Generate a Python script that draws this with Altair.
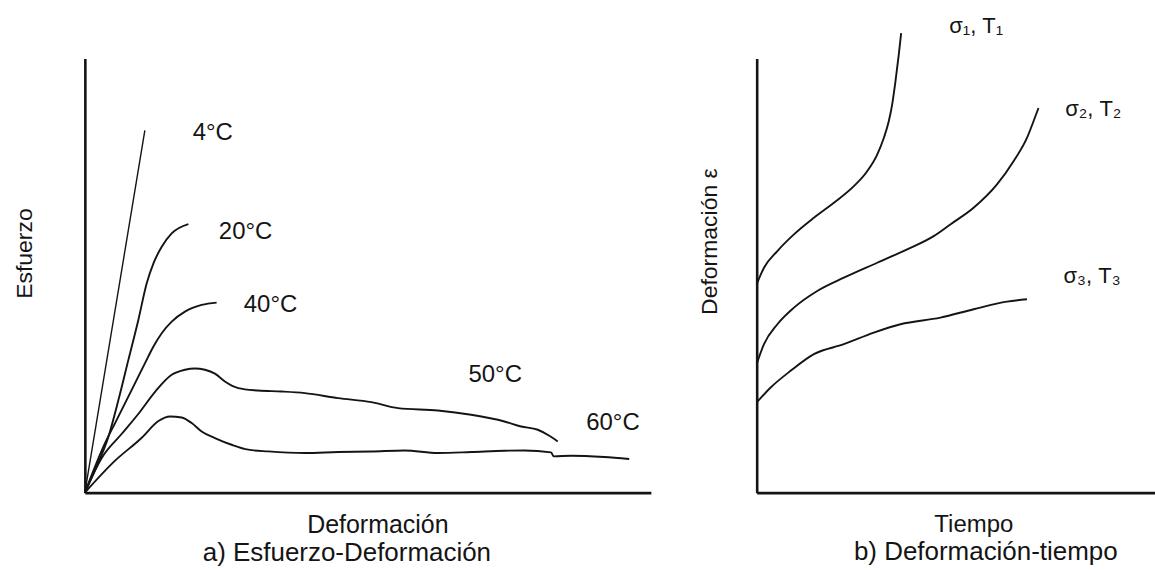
import altair as alt
import pandas as pd

FONT = "Liberation Sans"
INK = "#141414"

# ---------------- Left panel: Esfuerzo vs Deformación (arbitrary units 0-100)
c4_x = [0, 10.6]
c4_y = [0, 83.4]

c20_x = [0, 1.82, 4.18, 5.94, 7.69, 9.45, 10.93, 12.12, 13.58, 15.34, 18.29]
c20_y = [0, 5.29, 12.94, 21.38, 30.57, 39.77, 48.21, 52.80, 56.62, 59.70, 61.84]

c40_x = [0, 1.82, 3.58, 5.34, 7.11, 8.87, 10.63, 12.12, 13.58, 15.34, 17.69, 20.63, 23.28]
c40_y = [0, 6.05, 11.43, 16.02, 20.62, 25.22, 29.82, 33.66, 36.71, 39.38, 41.68, 43.22, 43.75]

c50_x = [0, 3.00, 6.53, 9.47, 12.40, 15.34, 17.69, 19.40, 21.22, 22.98, 24.74, 27.10, 30.62,
         34.74, 38.85, 44.74, 50.62, 55.33, 62.38, 68.25, 74.13, 77.07, 80.02, 82.06, 83.54]
c50_y = [0, 8.05, 13.56, 18.16, 23.22, 27.13, 28.30, 28.60, 28.30, 27.40, 25.59, 24.07, 23.52,
         23.29, 22.92, 21.77, 20.85, 19.47, 18.92, 17.93, 16.39, 15.24, 14.48, 13.10, 11.79]

c60_x = [0, 5.34, 10.05, 13.00, 15.04, 17.11, 18.87, 20.63, 22.98, 25.93, 28.87, 32.39,
         38.85, 44.74, 50.62, 56.49, 62.38, 68.25, 74.13, 77.66, 82.36, 82.84, 85.89, 91.75, 96.17]
c60_y = [0, 7.36, 12.64, 16.50, 17.54, 17.30, 16.02, 14.09, 12.57, 11.03, 9.89, 9.49,
         9.13, 9.36, 9.49, 9.72, 9.13, 9.36, 9.66, 9.72, 9.26, 8.34, 8.51, 8.21, 7.75]

left_labels = ["4°C", "20°C", "40°C", "50°C", "60°C"]
left_label_x = [22.6, 28.4, 32.8, 72.5, 93.3]
left_label_y = [82.8, 60.0, 43.2, 27.1, 16.1]

# ---------------- Right panel: Deformación vs Tiempo (arbitrary units 0-100)
s1_x = [0, 1.83, 5.19, 9.35, 14.36, 19.37, 24.39, 27.74, 30.25, 31.91, 33.16, 34.01, 34.84, 35.67, 36.27]
s1_y = [47.98, 51.79, 55.63, 59.47, 63.29, 66.74, 70.57, 74.02, 77.86, 81.68, 85.52, 89.36, 94.71, 100.85, 105.82]

s2_x = [0, 1.83, 5.19, 9.35, 15.21, 21.88, 30.25, 37.77, 44.44, 48.62, 54.46, 60.33, 64.49, 67.85, 69.50, 70.75]
s2_y = [29.59, 34.18, 38.78, 42.60, 46.44, 49.49, 52.94, 56.02, 59.08, 61.77, 65.59, 70.97, 76.32, 81.68, 85.52, 88.58]

s3_x = [0, 3.51, 8.52, 14.36, 21.88, 29.40, 36.09, 46.12, 54.46, 62.83, 67.85]
s3_y = [20.76, 24.21, 28.05, 31.89, 34.18, 36.85, 38.78, 40.30, 42.23, 43.98, 44.53]

right_labels = ["σ₁, T₁", "σ₂, T₂", "σ₃, T₃"]
right_label_x = [55.1, 84.5, 84.2]
right_label_y = [107.4, 88.3, 49.9]


def series(name, xs, ys):
    return pd.DataFrame({"serie": name, "x": xs, "y": ys})


left_df = pd.concat([
    series("20°C", c20_x, c20_y),
    series("40°C", c40_x, c40_y),
    series("50°C", c50_x, c50_y),
    series("60°C", c60_x, c60_y),
])
left_df4 = series("4°C", c4_x, c4_y)
left_lab = pd.DataFrame({"t": left_labels, "x": left_label_x, "y": left_label_y})

right_df = pd.concat([
    series("1", s1_x, s1_y),
    series("2", s2_x, s2_y),
    series("3", s3_x, s3_y),
])
right_lab = pd.DataFrame({"t": right_labels, "x": right_label_x, "y": right_label_y})


def axis(title, **kw):
    return alt.Axis(title=title, ticks=False, labels=False, grid=False,
                    domainColor=INK, domainWidth=2.6, titleFont=FONT,
                    titleFontWeight="normal", titleColor=INK, titleAlign="center",
                    titleBaseline="alphabetic", **kw)


sc = alt.Scale(domain=[0, 100], nice=False, zero=False)

# Left panel
lx = alt.X("x:Q", scale=sc, axis=axis("Deformación", titleFontSize=25, titleX=293, titleY=40))
ly = alt.Y("y:Q", scale=sc, axis=axis("Esfuerzo", titleFontSize=23, titleAngle=-90, titleX=-53, titleY=195))

left_lines = alt.Chart(left_df).mark_line(color=INK, strokeWidth=1.9, interpolate="monotone").encode(
    x=lx, y=ly, detail="serie:N")
left_4 = alt.Chart(left_df4).mark_line(color=INK, strokeWidth=1.4).encode(x=lx, y=ly)
left_text = alt.Chart(left_lab).mark_text(font=FONT, fontSize=24, color=INK, align="center",
                                          baseline="middle").encode(x=lx, y=ly, text="t:N")

left = alt.layer(left_lines, left_4, left_text).properties(
    width=567, height=435,
    title=alt.TitleParams("a) Esfuerzo-Deformación", orient="bottom", anchor="middle", frame="group",
                          dx=-21, offset=2, font=FONT, fontSize=26, fontWeight="normal", color=INK))

# Right panel
rx = alt.X("x:Q", scale=sc, axis=axis("Tiempo", titleFontSize=24, titleX=217, titleY=39))
ry = alt.Y("y:Q", scale=sc, axis=axis("Deformación ε", titleFontSize=23, titleAngle=-90, titleX=-40, titleY=183))

right_lines = alt.Chart(right_df).mark_line(color=INK, strokeWidth=1.9, interpolate="monotone").encode(
    x=rx, y=ry, detail="serie:N")
right_text = alt.Chart(right_lab).mark_text(font=FONT, fontSize=22, color=INK, align="center",
                                            baseline="middle").encode(x=rx, y=ry, text="t:N")

right = alt.layer(right_lines, right_text).properties(
    width=399, height=435,
    title=alt.TitleParams("b) Deformación-tiempo", orient="bottom", anchor="middle", frame="group",
                          dx=30, offset=2, font=FONT, fontSize=26, fontWeight="normal", color=INK))

chart = alt.hconcat(left, right, spacing=106, bounds="flush").properties(
    padding={"left": 14, "top": 14, "right": 0, "bottom": 0},
    background="white",
).configure_view(strokeWidth=0)

chart.save("out.html", embed_options={"renderer": "svg", "actions": False})
